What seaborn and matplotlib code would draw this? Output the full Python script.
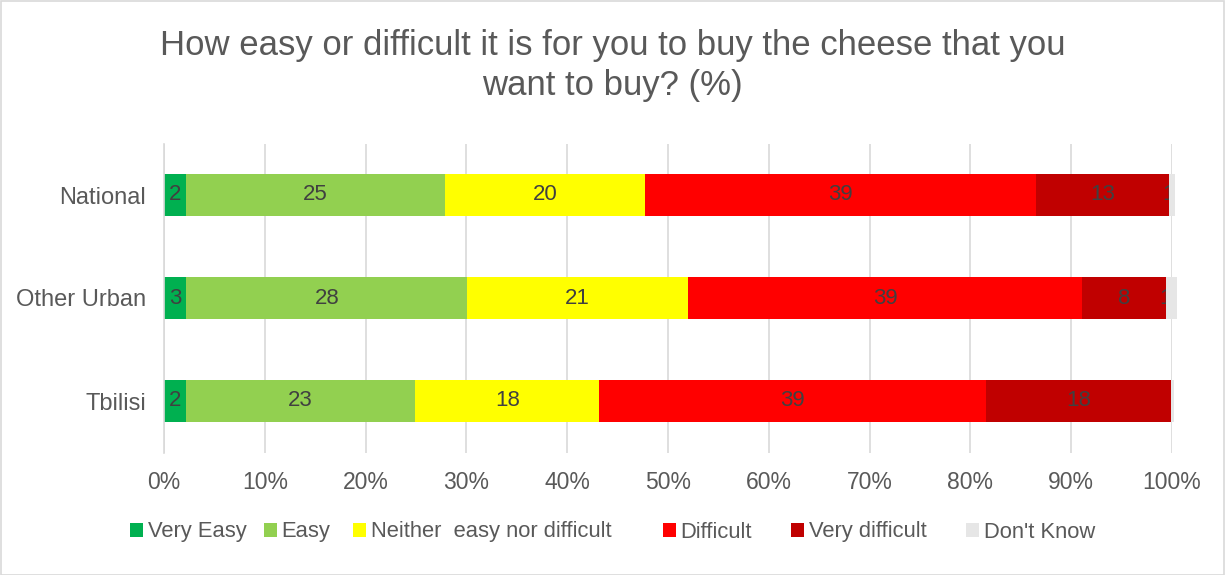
import matplotlib
matplotlib.use("Agg")
import matplotlib.pyplot as plt
from matplotlib.patches import Patch, Rectangle
import seaborn as sns
import pandas as pd
import numpy as np

# ---- data ----
regions = ["National", "Other Urban", "Tbilisi"]
series = ["Very Easy", "Easy", "Neither  easy nor difficult", "Difficult", "Very difficult", "Don't Know"]
very_easy = [2.2, 2.2, 2.2]
easy = [25.7, 27.9, 22.7]
neither = [19.8, 21.9, 18.3]
difficult = [38.8, 39.1, 38.3]
very_difficult = [13.2, 8.3, 18.4]
dont_know = [0.6, 1.1, 0.3]
lab_very_easy = ["2", "3", "2"]
lab_easy = ["25", "28", "23"]
lab_neither = ["20", "21", "18"]
lab_difficult = ["39", "39", "39"]
lab_very_difficult = ["13", "8", "18"]
lab_dont_know = ["1", "1", ""]
x_ticks = [0, 10, 20, 30, 40, 50, 60, 70, 80, 90, 100]
x_ticklabels = ["0%", "10%", "20%", "30%", "40%", "50%", "60%", "70%", "80%", "90%", "100%"]
title = "How easy or difficult it is for you to buy the cheese that you\nwant to buy? (%)"

colors = ["#00B050", "#92D050", "#FFFF00", "#FF0000", "#C00000", "#E6E6E6"]
values = [very_easy, easy, neither, difficult, very_difficult, dont_know]
labels = [lab_very_easy, lab_easy, lab_neither, lab_difficult, lab_very_difficult, lab_dont_know]

sns.set_theme(style="white")
plt.rcParams["font.family"] = ["Liberation Sans", "DejaVu Sans"]

W, H = 1225, 575
fig = plt.figure(figsize=(W / 100, H / 100), dpi=100)
ax = fig.add_axes([164 / W, 1 - 452.5 / H, (1172 - 164) / W, (452.5 - 143.5) / H])

text_col = "#404040"
grid_col = "#D9D9D9"

left = np.zeros(len(regions))
n = len(series)
for i, (name, vals, labs, col) in enumerate(zip(series, values, labels, colors)):
    df = pd.DataFrame({"region": regions, "value": vals})
    last = i == n - 1
    z = 4 if last else 2
    sns.barplot(data=df, y="region", x="value", order=regions, orient="h",
                color=col, width=0.41, left=left.copy(), ax=ax,
                saturation=1, linewidth=0, zorder=z, errorbar=None, clip_on=False)
    for j, (v, lab) in enumerate(zip(vals, labs)):
        if lab:
            # tiny last segment: label sits at its start, partly hidden by the bar
            xpos = left[j] if last else left[j] + v / 2
            ax.text(xpos, j, lab, ha="center", va="center",
                    fontsize=16, color=text_col, zorder=3)
    left = left + np.array(vals)

ax.set_xlim(0, 100)
ax.set_ylim(2.5, -0.5)
ax.set_xticks(x_ticks)
ax.set_xticklabels(x_ticklabels)
ax.set_xlabel("")
ax.set_ylabel("")
ax.tick_params(axis="x", length=0, pad=13, labelsize=16.5, colors="#595959")
ax.tick_params(axis="y", length=0, pad=13, labelsize=17, colors="#595959")
ax.xaxis.grid(True, color=grid_col, linewidth=1.2, zorder=0)
ax.set_axisbelow(True)
for s in ["top", "right", "bottom"]:
    ax.spines[s].set_visible(False)
ax.spines["left"].set_color(grid_col)
ax.spines["left"].set_linewidth(1.2)

fig.text(0.5, 1 - 65.5 / H, title, ha="center", va="center", fontsize=25,
         color="#595959", linespacing=1.29)

# legend entries (one small legend per entry to mimic spacing)
legend_x = [130, 264, 353, 663, 791, 966]
for name, col, lx in zip(series, colors, legend_x):
    fig.legend(handles=[Patch(facecolor=col, edgecolor="none", label=name)],
               loc="center left", bbox_to_anchor=(lx / W, 1 - 532 / H),
               frameon=False, fontsize=15.8, handlelength=0.6, handleheight=0.6,
               handletextpad=0.2, borderpad=0, borderaxespad=0, labelcolor="#595959")

fig.add_artist(Rectangle((0.5 / W, 0.5 / H), 1 - 1.5 / W, 1 - 1.5 / H,
                         transform=fig.transFigure, fill=False,
                         edgecolor=grid_col, linewidth=1.2))

fig.savefig("out.png", dpi=100, facecolor="white")
